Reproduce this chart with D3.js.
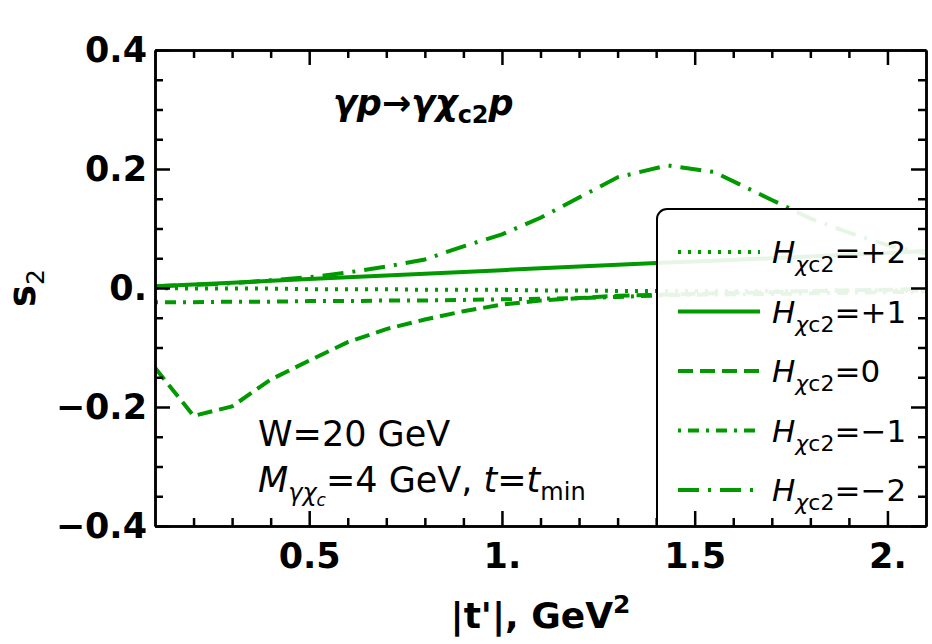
<!DOCTYPE html>
<html>
<head>
<meta charset="utf-8">
<script src="https://cdn.jsdelivr.net/npm/d3@7"></script>
<style>
  body { margin: 0; background: #fff; }
  svg { font-family: "DejaVu Sans", sans-serif; }
</style>
</head>
<body>
<svg width="932" height="644"></svg>
<script>
// |t'| grid (GeV^2)
var tValues = [0.1, 0.2, 0.3, 0.4, 0.5, 0.6, 0.7, 0.8, 0.9, 1.0, 1.1, 1.2, 1.3, 1.43, 1.55, 1.7, 1.8, 1.9, 2.0, 2.1];

// s2 for each helicity of chi_c2
var sPlus2  = [0.000, -0.001, -0.001, -0.001, -0.002, -0.002, -0.002, -0.003, -0.003, -0.003, -0.004, -0.004, -0.005, -0.005, -0.005, -0.005, -0.005, -0.004, -0.004, -0.004];
var sPlus1  = [0.003, 0.006, 0.009, 0.012, 0.015, 0.018, 0.021, 0.024, 0.027, 0.030, 0.033, 0.036, 0.039, 0.043, 0.046, 0.050, 0.053, 0.056, 0.059, 0.062];
var sZero   = [-0.134, -0.215, -0.199, -0.154, -0.122, -0.091, -0.069, -0.053, -0.039, -0.028, -0.021, -0.017, -0.013, -0.011, -0.009, -0.007, -0.005, -0.004, -0.003, -0.002];
var sMinus1 = [-0.024, -0.024, -0.023, -0.023, -0.022, -0.022, -0.021, -0.021, -0.020, -0.019, -0.018, -0.017, -0.015, -0.012, -0.011, -0.010, -0.009, -0.008, -0.007, -0.006];
var sMinus2 = [0.003, 0.005, 0.008, 0.013, 0.018, 0.026, 0.036, 0.048, 0.070, 0.090, 0.118, 0.152, 0.186, 0.206, 0.195, 0.148, 0.117, 0.093, 0.072, 0.058];

var helicityLabels = ["+2", "+1", "0", "\u22121", "\u22122"];

var xTicks = [0.5, 1.0, 1.5, 2.0];
var xTickLabels = ["0.5", "1.", "1.5", "2."];
var xMinorTicks = [0.2, 0.3, 0.4, 0.6, 0.7, 0.8, 0.9, 1.1, 1.2, 1.3, 1.4, 1.6, 1.7, 1.8, 1.9];
var yTicks = [-0.4, -0.2, 0, 0.2, 0.4];
var yTickLabels = ["\u22120.4", "\u22120.2", "0.", "0.2", "0.4"];
var yMinorTicks = [-0.35, -0.3, -0.25, -0.15, -0.1, -0.05, 0.05, 0.1, 0.15, 0.25, 0.3, 0.35];

var margin = { top: 50, right: 6, bottom: 118, left: 155 },
  width = 932 - margin.left - margin.right,
  height = 644 - margin.top - margin.bottom;

var green = "#009900";
var dashes = ["3,7", null, "15,7", "3,7,11,7", "21,9,3,9"];
var series = [sPlus2, sPlus1, sZero, sMinus1, sMinus2];

var svg = d3.select("svg")
  .append("g")
  .attr("transform", "translate(" + margin.left + "," + margin.top + ")");

var x = d3.scaleLinear().domain([0.1, 2.1]).range([0, width]);
var y = d3.scaleLinear().domain([-0.4, 0.4]).range([height, 0]);

svg.append("clipPath").attr("id", "plot-clip")
  .append("rect").attr("width", width).attr("height", height);

var line = d3.line()
  .x(function(d) { return x(d[0]); })
  .y(function(d) { return y(d[1]); });

var curves = svg.append("g").attr("clip-path", "url(#plot-clip)");
series.forEach(function(s, i) {
  curves.append("path")
    .datum(tValues.map(function(t, j) { return [t, s[j]]; }))
    .attr("d", line)
    .attr("fill", "none")
    .attr("stroke", green)
    .attr("stroke-width", 4)
    .attr("stroke-dasharray", dashes[i]);
});

// annotations
var ann = svg.append("g").attr("font-size", 35);
var title = ann.append("text")
  .attr("x", 178).attr("y", 65)
  .attr("font-weight", "bold")
  .attr("font-style", "italic");
title.append("tspan").text("\u03b3p\u2192\u03b3\u03c7");
title.append("tspan").attr("font-size", 24).attr("dy", 8).attr("font-style", "normal").text("c2");
title.append("tspan").attr("dy", -8).text("p");

ann.append("text").attr("x", 103).attr("y", 396).text("W=20 GeV");
var m = ann.append("text").attr("x", 103).attr("y", 442);
m.append("tspan").attr("font-style", "italic").text("M");
m.append("tspan").attr("font-size", 24).attr("dy", 9).attr("font-style", "italic").text("\u03b3\u03c7");
m.append("tspan").attr("font-size", 17).attr("dy", 5).attr("font-style", "italic").text("c");
m.append("tspan").attr("dy", -14).text("=4 GeV, ");
m.append("tspan").attr("font-style", "italic").text("t");
m.append("tspan").text("=");
m.append("tspan").attr("font-style", "italic").text("t");
m.append("tspan").attr("font-size", 24).attr("dy", 8).text("min");

// legend
var legend = svg.append("g").attr("clip-path", "url(#plot-clip)");
legend.append("rect")
  .attr("x", 502).attr("y", 159)
  .attr("width", 300).attr("height", 400)
  .attr("rx", 10)
  .attr("fill", "#fff").attr("fill-opacity", 0.9)
  .attr("stroke", "#000").attr("stroke-width", 2);

helicityLabels.forEach(function(lab, i) {
  var ly = 202 + i * 59.5;
  legend.append("line")
    .attr("x1", 523).attr("x2", 605)
    .attr("y1", ly).attr("y2", ly)
    .attr("stroke", green).attr("stroke-width", 4)
    .attr("stroke-dasharray", dashes[i]);
  var t = legend.append("text").attr("x", 617).attr("y", ly + 11).attr("font-size", 31);
  t.append("tspan").attr("font-style", "italic").text("H");
  t.append("tspan").attr("font-size", 22).attr("dy", 9).attr("font-style", "italic").text("\u03c7");
  t.append("tspan").attr("font-size", 22).text("c2");
  t.append("tspan").attr("dy", -9).text("=" + lab);
});

// axes
function styleAxis(g) {
  g.select(".domain").attr("stroke-width", 2.5);
  g.selectAll(".tick line").attr("stroke-width", 2.5);
  g.selectAll("text").attr("font-family", "DejaVu Sans").attr("font-weight", "bold").attr("font-size", 35).attr("fill", "#000");
}

svg.append("g")
  .attr("transform", "translate(0," + height + ")")
  .call(d3.axisBottom(x).tickValues(xTicks).tickSize(-15).tickSizeOuter(0).tickPadding(17)
    .tickFormat(function(d, i) { return xTickLabels[i]; }))
  .call(styleAxis);
svg.append("g")
  .attr("transform", "translate(0," + height + ")")
  .call(d3.axisBottom(x).tickValues(xMinorTicks).tickSize(-8).tickSizeOuter(0).tickFormat(""))
  .call(styleAxis);
svg.append("g")
  .call(d3.axisTop(x).tickValues(xTicks).tickSize(-15).tickSizeOuter(0).tickFormat(""))
  .call(styleAxis);
svg.append("g")
  .call(d3.axisTop(x).tickValues(xMinorTicks).tickSize(-8).tickSizeOuter(0).tickFormat(""))
  .call(styleAxis);

svg.append("g")
  .call(d3.axisLeft(y).tickValues(yTicks).tickSize(-15).tickSizeOuter(0).tickPadding(8)
    .tickFormat(function(d, i) { return yTickLabels[i]; }))
  .call(styleAxis);
svg.append("g")
  .call(d3.axisLeft(y).tickValues(yMinorTicks).tickSize(-8).tickSizeOuter(0).tickFormat(""))
  .call(styleAxis);
svg.append("g")
  .attr("transform", "translate(" + width + ",0)")
  .call(d3.axisRight(y).tickValues(yTicks).tickSize(-15).tickSizeOuter(0).tickFormat(""))
  .call(styleAxis);
svg.append("g")
  .attr("transform", "translate(" + width + ",0)")
  .call(d3.axisRight(y).tickValues(yMinorTicks).tickSize(-8).tickSizeOuter(0).tickFormat(""))
  .call(styleAxis);

// axis titles
var xt = svg.append("text")
  .attr("x", width / 2).attr("y", height + 102)
  .attr("text-anchor", "middle")
  .attr("font-weight", "bold").attr("font-size", 36);
xt.append("tspan").text("|t'|, GeV");
xt.append("tspan").attr("font-size", 25).attr("dy", -15).text("2");

var yt = svg.append("text")
  .attr("transform", "translate(" + (-120) + "," + y(0) + ") rotate(-90)")
  .attr("text-anchor", "middle")
  .attr("font-weight", "bold").attr("font-size", 37);
yt.append("tspan").text("s");
yt.append("tspan").attr("font-size", 25).attr("font-weight", "normal").attr("dy", 9).text("2");
</script>
</body>
</html>
